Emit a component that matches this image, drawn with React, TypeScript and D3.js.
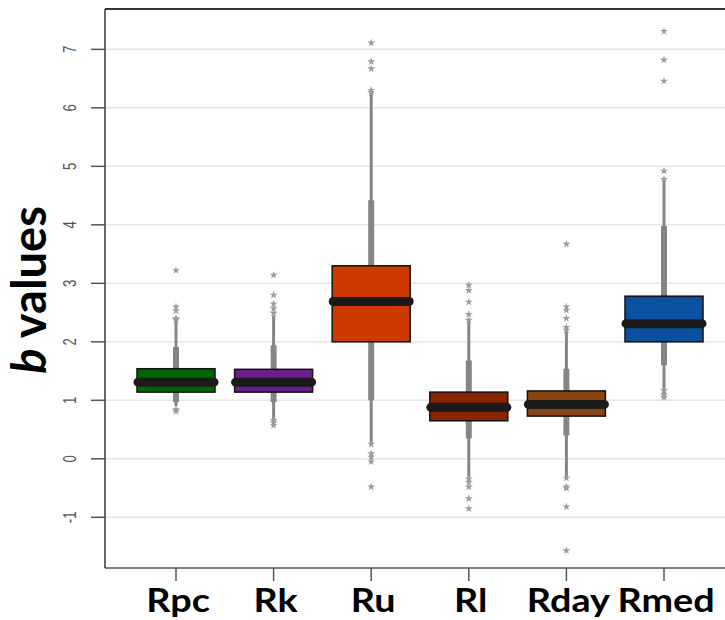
import React from "react";
import * as d3 from "d3";

const categories = ["Rpc", "Rk", "Ru", "Rl", "Rday", "Rmed"];
const colors = ["#006400", "#6A1F8A", "#CD3A00", "#8B2500", "#8B4513", "#0A52A0"];
const q1 = [1.14, 1.14, 2.0, 0.65, 0.73, 2.0];
const medians = [1.31, 1.31, 2.69, 0.88, 0.93, 2.31];
const q3 = [1.54, 1.53, 3.3, 1.14, 1.16, 2.78];
const thickLow = [0.97, 0.97, 1.0, 0.35, 0.4, 1.6];
const thickHigh = [1.91, 1.94, 4.42, 1.68, 1.54, 3.98];
const whiskLow = [0.9, 0.66, 0.26, -0.31, -0.31, 1.09];
const whiskHigh = [2.37, 2.45, 6.27, 2.37, 2.2, 4.76];
const outliers: number[][] = [
  [3.22, 2.6, 2.53, 2.4, 2.37, 0.81, 0.84],
  [3.14, 2.8, 2.65, 2.57, 2.49, 0.66, 0.62, 0.57],
  [7.11, 6.79, 6.67, 6.3, 6.26, 0.25, 0.09, 0.03, -0.05, -0.48],
  [2.97, 2.88, 2.68, 2.47, 2.37, -0.34, -0.4, -0.48, -0.68, -0.85],
  [3.67, 2.6, 2.54, 2.4, 2.25, 2.2, -0.33, -0.48, -0.5, -0.82, -1.57],
  [7.31, 6.82, 6.46, 4.92, 4.78, 1.17, 1.09, 1.05],
];
const yTicks = [-1, 0, 1, 2, 3, 4, 5, 6, 7];

export default function App() {
  const W = 725, H = 620;
  const left = 105, top = 9, bottom = 568;
  const y = d3.scaleLinear().domain([-1.867, 7.69]).range([bottom, top]);
  const step = 97.6;
  const cx = d3.scalePoint().domain(categories).range([176, 176 + step * 5]);
  const bw = 78;
  const star = d3.symbol().type(d3.symbolStar).size(20);

  return (
    <svg width={W} height={H} style={{ position: "absolute", left: 0, top: 0, background: "#fff" }}>
      {yTicks.map((t) => (
        <line key={"g" + t} x1={left} x2={W} y1={y(t)} y2={y(t)} stroke="#e6e6e6" strokeWidth={1.5} />
      ))}
      <line x1={left} x2={left} y1={top} y2={bottom} stroke="#444" strokeWidth={1.6} />
      <line x1={left} x2={W} y1={top} y2={top} stroke="#333" strokeWidth={2} />
      <line x1={left} x2={W} y1={bottom} y2={bottom} stroke="#555" strokeWidth={1.6} />
      {yTicks.map((t) => (
        <g key={"t" + t}>
          <line x1={91} x2={left} y1={y(t)} y2={y(t)} stroke="#555" strokeWidth={1.5} />
          <text
            transform={`translate(76,${y(t)}) rotate(-90) scale(0.7,1)`}
            textAnchor="middle"
            fontFamily="Liberation Sans, Arial, sans-serif"
            fontSize={19}
            fill="#555"
          >
            {t}
          </text>
        </g>
      ))}
      <text
        transform={`translate(46,290) rotate(-90)`}
        textAnchor="middle"
        fontFamily="Lato, sans-serif"
        fontWeight={700}
        fontSize={47}
        fill="#000"
      >
        <tspan fontStyle="italic">b</tspan> values
      </text>
      {categories.map((c) => (
        <g key={"x" + c}>
          <line x1={cx(c)} x2={cx(c)} y1={bottom} y2={581} stroke="#555" strokeWidth={1.5} />
          <text
            transform={`translate(${cx(c)! + 2},612) scale(1.18,1)`}
            textAnchor="middle"
            fontFamily="Lato, sans-serif"
            fontWeight={700}
            fontSize={32}
            fill="#000"
          >
            {c}
          </text>
        </g>
      ))}
      {categories.map((c, i) => {
        const xc = cx(c)!;
        return (
          <g key={"b" + c}>
            <line x1={xc} x2={xc} y1={y(whiskLow[i])} y2={y(whiskHigh[i])} stroke="#858585" strokeWidth={3} />
            <line x1={xc} x2={xc} y1={y(thickLow[i])} y2={y(thickHigh[i])} stroke="#858585" strokeWidth={6} />
            {outliers[i].map((v, k) => (
              <path key={k} d={star()!} transform={`translate(${xc},${y(v)})`} fill="#a09a9a" />
            ))}
            <rect x={xc - bw / 2} y={y(q3[i])} width={bw} height={y(q1[i]) - y(q3[i])} fill={colors[i]} stroke="#111" strokeWidth={1.5} />
            <line x1={xc - bw / 2 + 1} x2={xc + bw / 2 - 1} y1={y(medians[i])} y2={y(medians[i])} stroke="#1a1a1a" strokeWidth={9} strokeLinecap="round" />
          </g>
        );
      })}
    </svg>
  );
}
